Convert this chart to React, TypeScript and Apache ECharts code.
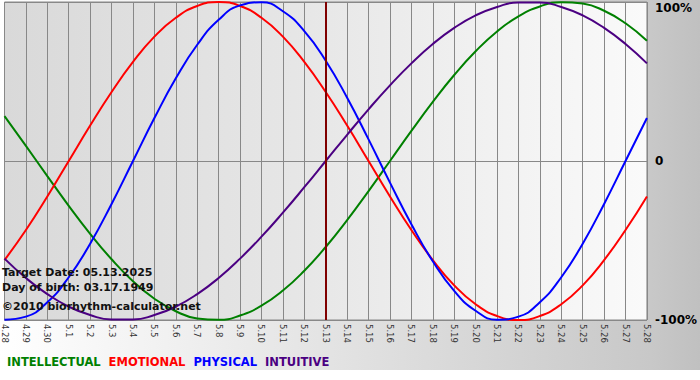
import React, { useEffect, useRef } from "react";
import * as echarts from "echarts";

const dates = [
  "4.28", "4.29", "4.30", "5.1", "5.2", "5.3", "5.4", "5.5", "5.6", "5.7", "5.8",
  "5.9", "5.10", "5.11", "5.12", "5.13", "5.14", "5.15", "5.16", "5.17", "5.18",
  "5.19", "5.20", "5.21", "5.22", "5.23", "5.24", "5.25", "5.26", "5.27", "5.28",
];

const intellectual = [
  28.2, 9.5, -9.5, -28.2, -45.8, -61.8, -75.6, -86.6, -94.5, -99.0, -99.9,
  -97.2, -91.0, -81.5, -69.0, -54.1, -37.2, -18.9, 0, 18.9, 37.2,
  54.1, 69.0, 81.5, 91.0, 97.2, 99.9, 99.0, 94.5, 86.6, 75.6,
];

const emotional = [
  -62.3, -43.4, -22.3, 0, 22.3, 43.4, 62.3, 78.2, 90.1, 97.5, 100,
  97.5, 90.1, 78.2, 62.3, 43.4, 22.3, 0, -22.3, -43.4, -62.3,
  -78.2, -90.1, -97.5, -100, -97.5, -90.1, -78.2, -62.3, -43.4, -22.3,
];

const physical = [
  -99.8, -97.9, -88.8, -73.1, -52.0, -27.0, 0, 27.0, 52.0, 73.1, 88.8,
  97.9, 99.8, 94.2, 81.7, 63.1, 39.8, 13.6, -13.6, -39.8, -63.1,
  -81.7, -94.2, -99.8, -97.9, -88.8, -73.1, -52.0, -27.0, 0, 27.0,
];

const intuitive = [
  -61.4, -73.6, -83.7, -91.6, -96.9, -99.7, -99.7, -96.9, -91.6, -83.7, -73.6,
  -61.4, -47.6, -32.5, -16.5, 0, 16.5, 32.5, 47.6, 61.4, 73.6,
  83.7, 91.6, 96.9, 99.7, 99.7, 96.9, 91.6, 83.7, 73.6, 61.4,
];

const targetDate = "5.13";
const infoLines = [
  "Target Date: 05.13.2025",
  "Day of birth: 03.17.1949",
  "©2010 biorhythm-calculator.net",
];

const seriesDefs = [
  { name: "INTELLECTUAL", data: intellectual, color: "#008000" },
  { name: "EMOTIONAL", data: emotional, color: "#ff0000" },
  { name: "PHYSICAL", data: physical, color: "#0000ff" },
  { name: "INTUITIVE", data: intuitive, color: "#4b0082" },
];

export default function App() {
  const ref = useRef<HTMLDivElement>(null);

  useEffect(() => {
    if (!ref.current) return;
    const chart = echarts.init(ref.current, null, { renderer: "svg" });
    const font = "DejaVu Sans";
    chart.setOption({
      animation: false,
      backgroundColor: new echarts.graphic.LinearGradient(0, 0, 1, 0, [
        { offset: 0, color: "#ffffff" },
        { offset: 0.93, color: "#c8c8c8" },
        { offset: 1, color: "#c0c0c0" },
      ]),
      grid: {
        left: 0,
        right: 49,
        top: 2,
        bottom: 50,
        show: true,
        borderColor: "#888888",
        borderWidth: 1,
        backgroundColor: new echarts.graphic.LinearGradient(0, 0, 1, 0, [
          { offset: 0, color: "#d9d9d9" },
          { offset: 0.45, color: "#e6e6e6" },
          { offset: 1, color: "#fafafa" },
        ]),
      },
      legend: {
        left: 2,
        top: 356,
        icon: "none",
        itemWidth: 0,
        itemHeight: 12,
        itemGap: 3,
        padding: 0,
        selectedMode: false,
        textStyle: { fontFamily: font, fontWeight: "bold", fontSize: 11.5 },
        data: seriesDefs.map((s) => ({
          name: s.name,
          textStyle: { color: s.color },
        })),
      },
      xAxis: {
        type: "category",
        data: dates,
        boundaryGap: false,
        axisLine: { show: true, lineStyle: { color: "#888888" } },
        axisTick: { show: true, interval: 0, length: 3, lineStyle: { color: "#888888" } },
        splitLine: { show: true, interval: 0, lineStyle: { color: "#888888", width: 1 } },
        axisLabel: {
          interval: 0,
          rotate: -90,
          margin: 4,
          fontSize: 8.5,
          fontFamily: font,
          color: "#333333",
        },
      },
      yAxis: {
        type: "value",
        position: "right",
        min: -100,
        max: 100,
        interval: 100,
        axisLine: { show: false },
        axisTick: { show: false },
        splitLine: { show: true, lineStyle: { color: "#888888", width: 1 } },
        axisLabel: {
          margin: 8,
          fontSize: 12,
          fontWeight: "bold",
          fontFamily: font,
          color: "#000000",
          verticalAlignMaxLabel: "top",
          formatter: (v: number) => (v === 0 ? "0" : v + "%"),
        },
      },
      series: seriesDefs.map((s, i) => ({
        name: s.name,
        type: "line",
        data: s.data,
        smooth: 0.5,
        showSymbol: false,
        symbol: "none",
        lineStyle: { color: s.color, width: 2 },
        itemStyle: { color: s.color },
        markLine:
          i === 0
            ? {
                silent: true,
                symbol: ["none", "none"],
                label: { show: false },
                lineStyle: { color: "#800000", width: 2, type: "solid" },
                data: [{ xAxis: targetDate }],
              }
            : undefined,
      })),
      graphic: infoLines.map((t, i) => ({
        type: "text",
        left: 2,
        top: [267, 282, 301][i],
        z: 100,
        style: {
          text: t,
          fill: "#111111",
          font: `bold 11px ${font}`,
        },
      })),
    });
    return () => chart.dispose();
  }, []);

  return (
    <div
      ref={ref}
      style={{ position: "absolute", left: 0, top: 0, width: 700, height: 370 }}
    />
  );
}
